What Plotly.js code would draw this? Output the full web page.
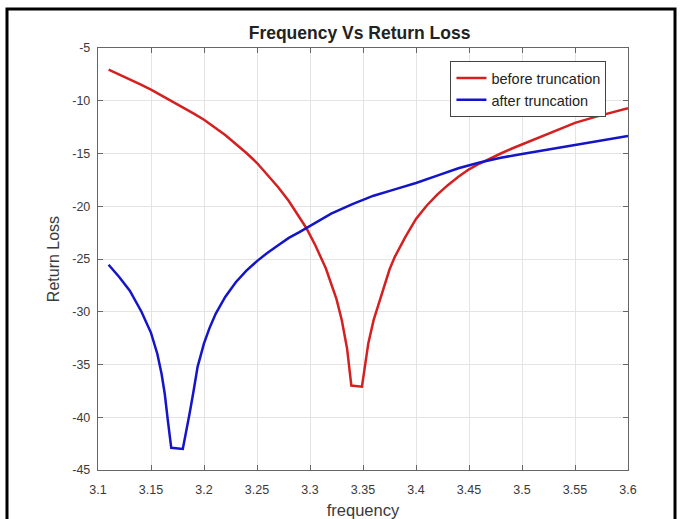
<!DOCTYPE html>
<html>
<head>
<meta charset="utf-8">
<script src="https://cdn.plot.ly/plotly-3.0.1.min.js"></script>
<style>
html,body{margin:0;padding:0;background:#fff;}
#chart{width:681px;height:519px;}
</style>
</head>
<body>
<div id="chart"></div>
<script>
const beforeFreq = [3.11, 3.12, 3.13, 3.14, 3.15, 3.16, 3.17, 3.18, 3.19, 3.2, 3.21, 3.22, 3.23, 3.24, 3.25, 3.26, 3.27, 3.28, 3.29, 3.2965, 3.305, 3.315, 3.325, 3.33, 3.335, 3.339, 3.349, 3.352, 3.355, 3.36, 3.365, 3.37, 3.375, 3.38, 3.39, 3.4, 3.41, 3.42, 3.43, 3.44, 3.45, 3.46, 3.47, 3.48, 3.49, 3.5, 3.52, 3.54, 3.55, 3.57, 3.6];
const beforeLoss = [-7.06, -7.5, -7.95, -8.45, -8.95, -9.5, -10.05, -10.65, -11.2, -11.8, -12.5, -13.25, -14.1, -14.95, -15.9, -17.0, -18.2, -19.5, -21.0, -22.06, -23.7, -25.9, -28.8, -30.8, -33.5, -37.0, -37.1, -35.0, -33.0, -30.8, -29.2, -27.6, -26.0, -24.8, -22.9, -21.2, -19.95, -18.9, -18.0, -17.2, -16.5, -15.95, -15.45, -15.0, -14.55, -14.15, -13.3, -12.5, -12.1, -11.5, -10.7];

const afterFreq = [3.11, 3.12, 3.13, 3.141, 3.15, 3.156, 3.16, 3.163, 3.166, 3.1691, 3.18, 3.1835, 3.1865, 3.19, 3.194, 3.2, 3.205, 3.211, 3.22, 3.23, 3.24, 3.25, 3.26, 3.27, 3.28, 3.29, 3.2965, 3.31, 3.32, 3.34, 3.35, 3.36, 3.38, 3.4, 3.42, 3.44, 3.46, 3.48, 3.5, 3.52, 3.54, 3.56, 3.58, 3.6];
const afterLoss = [-25.55, -26.7, -28.0, -30.0, -32.0, -34.0, -35.9, -37.8, -40.4, -42.9, -43.0, -41.3, -39.6, -37.6, -35.2, -33.0, -31.6, -30.2, -28.6, -27.2, -26.1, -25.2, -24.4, -23.7, -23.0, -22.45, -22.06, -21.3, -20.7, -19.8, -19.4, -19.0, -18.4, -17.8, -17.1, -16.4, -15.85, -15.4, -15.05, -14.7, -14.35, -14.0, -13.65, -13.35];

const xTicks = [3.1, 3.15, 3.2, 3.25, 3.3, 3.35, 3.4, 3.45, 3.5, 3.55, 3.6];
const xTickText = ['3.1', '3.15', '3.2', '3.25', '3.3', '3.35', '3.4', '3.45', '3.5', '3.55', '3.6'];
const yTicks = [-45, -40, -35, -30, -25, -20, -15, -10, -5];
const yTickText = ['-45', '-40', '-35', '-30', '-25', '-20', '-15', '-10', '-5'];
const seriesNames = ['before truncation', 'after truncation'];

const FONT = 'Liberation Sans, Arial, sans-serif';

const traces = [
  {x: beforeFreq, y: beforeLoss, name: seriesNames[0], type: 'scatter', mode: 'lines',
   line: {color: '#d42020', width: 2.5}},
  {x: afterFreq, y: afterLoss, name: seriesNames[1], type: 'scatter', mode: 'lines',
   line: {color: '#1414c8', width: 2.5}}
];

const axisCommon = {
  showgrid: true, gridcolor: '#e4e4e4', gridwidth: 1,
  showline: true, linecolor: '#666', linewidth: 1.2, mirror: 'ticks',
  ticks: 'inside', ticklen: 5, tickcolor: '#666', tickwidth: 1,
  zeroline: false,
  tickfont: {family: FONT, size: 12.5, color: '#3a3a3a'}
};

const layout = {
  width: 681, height: 519,
  margin: {l: 98, r: 53, t: 48, b: 49},
  paper_bgcolor: '#fff', plot_bgcolor: '#fff',
  title: {text: '<b>Frequency Vs Return Loss</b>', font: {family: FONT, size: 17.5, color: '#222'},
          x: 0.528, xanchor: 'center', y: 0.936, yanchor: 'middle', yref: 'container'},
  xaxis: Object.assign({}, axisCommon, {
    range: [3.1, 3.6], tickvals: xTicks, ticktext: xTickText, ticklabelstandoff: 8,
    title: {text: 'frequency', font: {family: FONT, size: 16.5, color: '#3a3a3a'}, standoff: 12}
  }),
  yaxis: Object.assign({}, axisCommon, {
    range: [-45, -5], tickvals: yTicks, ticktext: yTickText, ticklabelstandoff: 4,
    title: {text: 'Return Loss', font: {family: FONT, size: 16, color: '#3a3a3a'}, standoff: 8}
  }),
  showlegend: true,
  legend: {x: 0.665, y: 0.969, xanchor: 'left', yanchor: 'top',
           bgcolor: '#fff', bordercolor: '#444', borderwidth: 1,
           font: {family: FONT, size: 14.5, color: '#222'},
           tracegroupgap: 0, itemwidth: 30},
  shapes: [
    {type: 'rect', xref: 'paper', yref: 'paper',
     x0: -0.1717, x1: 1.0887, y0: -0.2, y1: 1.0924,
     line: {color: '#000', width: 3}, fillcolor: 'rgba(0,0,0,0)', layer: 'below'}
  ]
};

Plotly.newPlot('chart', traces, layout, {displayModeBar: false, staticPlot: true});
</script>
</body>
</html>
